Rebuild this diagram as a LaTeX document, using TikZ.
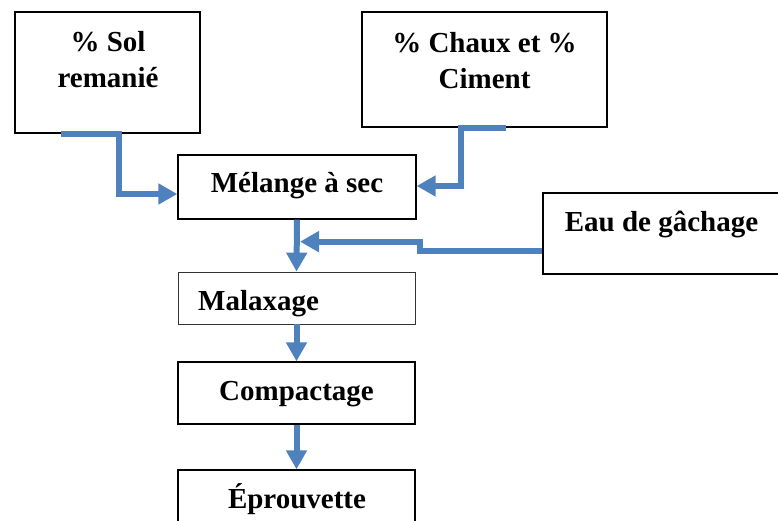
\documentclass[tikz,border=0pt]{standalone}
\usepackage{fontspec}
\setmainfont{Liberation Serif}
\usetikzlibrary{arrows.meta,positioning}
\definecolor{flowblue}{RGB}{79,129,189}

\begin{document}
\begin{tikzpicture}[x=1pt,y=1pt,
    box/.style={draw,line width=1.3pt,inner sep=0pt},
    txt/.style={font=\fontsize{29}{36}\selectfont\bfseries,align=center,inner sep=0pt,anchor=base},
    flow/.style={draw=flowblue,line width=6pt,-{Triangle[length=19pt,width=20pt]}}]

            \useasboundingbox (0,0) rectangle (778,-521);
            \clip (0,0) rectangle (778,-521);

            \node[box,minimum width=185,minimum height=121] (sol) at (107.5,-72.5) {};
            \node[box,minimum width=245,minimum height=115] (chaux) at (484.5,-69.5) {};
            \node[box,minimum width=238,minimum height=64] (mel) at (297,-187) {};
            \node[box,minimum width=250,minimum height=81] (eau) at (668,-233.5) {};
            \node[box,draw=black!80,line width=0.8pt,minimum width=237,minimum height=52] (mal) at (296.5,-298) {};
            \node[box,minimum width=237,minimum height=62] (comp) at (296.5,-393) {};
            \node[box,minimum width=237,minimum height=80] (epr) at (296.5,-510) {};

            \node[txt] (solT) at (108,-88) {\% Sol\\remanié};
            \node[txt] (chauxT) at (484.5,-89) {\% Chaux et \%\\Ciment};
            \node[txt] (melT) at (297,-193) {Mélange à sec};
            \node[txt] (eauT) at (661.5,-232) {Eau de gâchage};
            \node[txt,anchor=base west] (malT) at (198,-310) {Malaxage};
            \node[txt] (compT) at (296.5,-400) {Compactage};
            \node[txt] (eprT) at (297,-508) {Éprouvette};

            \path[flow] ([xshift=47]sol.south west) -| ([xshift=-58,yshift=-7]mel.west) -- ([yshift=-7]mel.west);
            \path[flow] ([xshift=-102]chaux.south east) -| ([xshift=44,yshift=1]mel.east) -- ([yshift=1]mel.east);
            \path[flow] ([yshift=-17.5]eau.west) -| ([xshift=123,yshift=-22]mel.south) -- ([xshift=3,yshift=-22]mel.south);
            \path[flow] (mel.south) -- (mal.north);
            \path[flow] (mal.south) -- (comp.north);
            \path[flow] (comp.south) -- (epr.north);

\end{tikzpicture}
\end{document}
